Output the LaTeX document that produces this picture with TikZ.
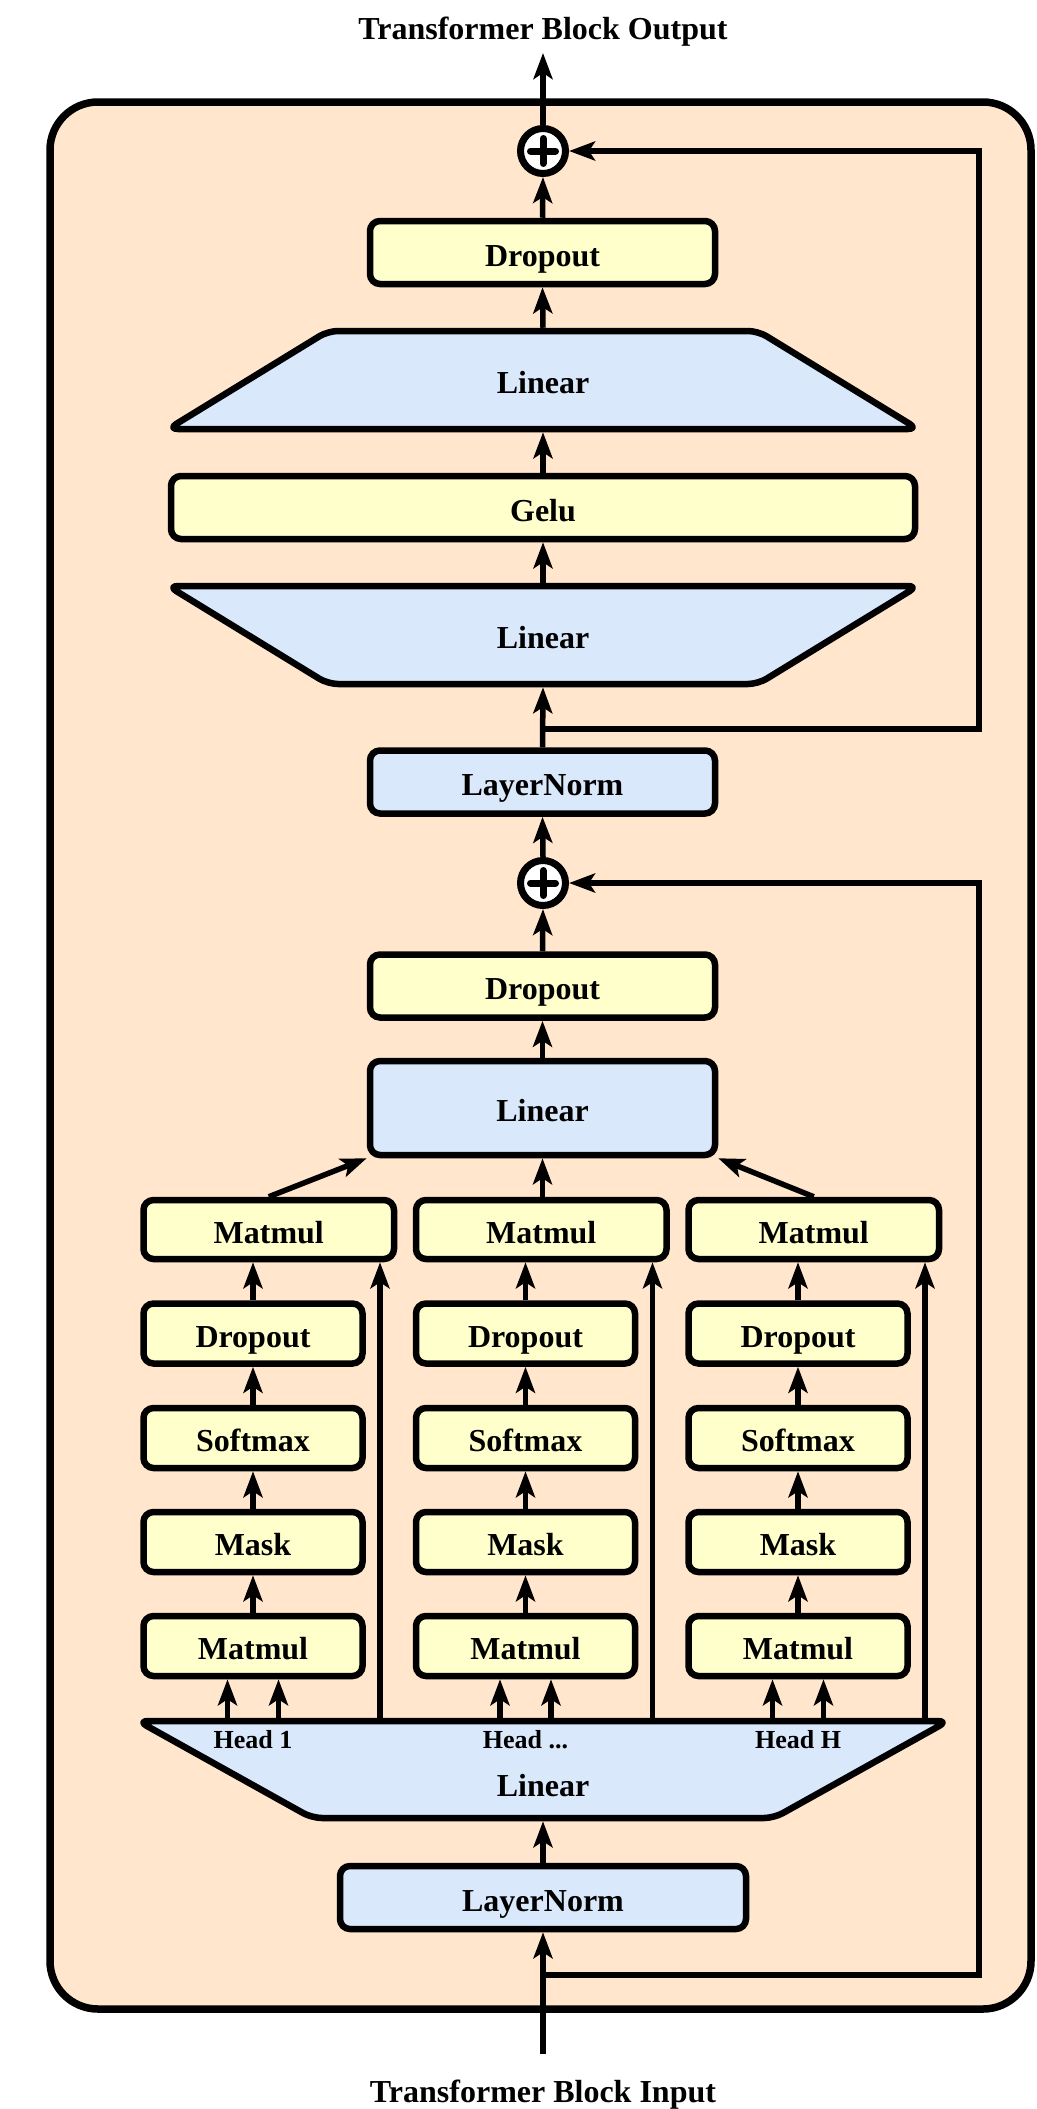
\documentclass[tikz,border=0pt]{standalone}
\usepackage{fontspec}
\setmainfont{Liberation Serif}
\usetikzlibrary{arrows.meta,calc}
\definecolor{peach}{HTML}{FFE6CC}
\definecolor{yel}{HTML}{FFFFCC}
\definecolor{blu}{HTML}{DAE8FC}
\newcommand{\bigf}{\fontsize{32}{38}\selectfont\bfseries}
\newcommand{\smallf}{\fontsize{26}{31}\selectfont\bfseries}
\begin{document}
\begin{tikzpicture}[x=1pt,y=-1pt,
  box/.style={draw, line width=6.5pt, rounded corners=10pt, inner sep=0pt,
    minimum height=63pt, text height=33pt, text depth=6pt, font=\bigf},
  ybox/.style={box, fill=yel},
  bbox/.style={box, fill=blu},
  region/.style={draw=none, inner sep=0pt, outer sep=3.25pt,
    text height=33pt, text depth=6pt, font=\bigf},
  trap/.style={draw, fill=blu, line width=6.5pt, rounded corners=10pt, line join=round},
  ln/.style={line width=5.5pt, line join=miter},
  arr/.style={ln, -{Stealth[length=26pt, width=19pt, inset=6pt]}},
  plus/.style={draw, fill=white, circle, line width=7pt, minimum size=45pt, inner sep=0pt},
  title/.style={font=\bigf, anchor=base, inner sep=0pt}
]
\useasboundingbox (0,0) rectangle (1036,2109);

% outer container
\draw[line width=7.5pt, fill=peach, rounded corners=48pt] (50,102) rectangle (1031,2009);

% titles
\node[title] (outtitle) at (543,40) {Transformer Block Output};
\node[title] (intitle) at (543,2102.5) {Transformer Block Input};

% ---------- upper part ----------
\node[plus] (c1) at (543,151) {};
\draw[line width=7pt, line cap=round] ([xshift=-12.5pt]c1.center) -- ([xshift=12.5pt]c1.center);
\draw[line width=7pt, line cap=round] ([yshift=-12.5pt]c1.center) -- ([yshift=12.5pt]c1.center);
\coordinate (outtip) at (543,53);

\node[ybox, minimum width=345pt] (d1) at (542.5,252.5) {Dropout};

\draw[trap] (543,429) -- (168,429) -- (328,331) -- (758,331) -- (918,429) -- cycle;
\node[region, minimum width=750pt, minimum height=98pt] (lin3) at (543,380) {Linear};

\node[ybox, minimum width=744pt] (gelu) at (543,507.5) {Gelu};

\draw[trap] (543,586) -- (918,586) -- (758,684) -- (328,684) -- (168,586) -- cycle;
\node[region, minimum width=750pt, minimum height=98pt] (lin2) at (543,635) {Linear};

\node[bbox, minimum width=345pt] (ln2) at (542.5,782) {LayerNorm};

\node[plus] (c2) at (543,883) {};
\draw[line width=7pt, line cap=round] ([xshift=-12.5pt]c2.center) -- ([xshift=12.5pt]c2.center);
\draw[line width=7pt, line cap=round] ([yshift=-12.5pt]c2.center) -- ([yshift=12.5pt]c2.center);

\node[ybox, minimum width=345pt] (d2) at (542.5,986) {Dropout};
\node[bbox, minimum width=345pt, minimum height=94pt] (lin1) at (542.5,1108) {Linear};

% ---------- heads ----------
\draw[trap] (543,1818) -- (312,1818) -- (138,1721) -- (948,1721) -- (774,1818) -- cycle;
\node[region, minimum width=810pt, minimum height=97pt] (lin0) at (543,1769.5) {};
\node[title] (lin0lab) at (543,1796) {Linear};

\foreach \i/\c/\lab in {1/253/{Head 1}, 2/525.5/{Head ...}, 3/798/{Head H}} {
  \node[ybox, minimum width=250.5pt, minimum height=59pt] (mt\i) at ({\c+15.75},1229.5) {Matmul};
  \node[ybox, minimum width=219pt, minimum height=60pt] (dh\i) at (\c,1333.5) {Dropout};
  \node[ybox, minimum width=219pt, minimum height=60pt] (sm\i) at (\c,1438) {Softmax};
  \node[ybox, minimum width=219pt, minimum height=60pt] (mk\i) at (\c,1542) {Mask};
  \node[ybox, minimum width=219pt, minimum height=60pt] (mb\i) at (\c,1646) {Matmul};
  \node[font=\smallf, anchor=base, inner sep=0pt] (hl\i) at (\c,1748) {\lab};
  \coordinate (ia\i) at ({\c-25.5},1720);
  \coordinate (ib\i) at ({\c+25.5},1720);
  \coordinate (ic\i) at ({\c+127},1720);
}

\node[bbox, minimum width=406pt] (ln1) at (543,1897.5) {LayerNorm};

% ---------- connectors ----------
\draw[arr] (c1.north) -- (outtip);
\draw[arr] (d1.north) -- (c1.south);
\draw[arr] (lin3.north) -- (d1.south);
\draw[arr] (gelu.north) -- (lin3.south);
\draw[arr] (lin2.north) -- (gelu.south);
\draw[arr] (ln2.north) -- (lin2.south);
\draw[arr] (c2.north) -- (ln2.south);
\draw[arr] (d2.north) -- (c2.south);
\draw[arr] (lin1.north) -- (d2.south);

\coordinate (br1) at (543,729);
\coordinate (r1) at (979,729);
\draw[arr] (br1) -- (r1) -- (r1 |- c1.east) -- (c1.east);

\draw[arr] (mt1.north) -- (lin1.south west);
\draw[arr] (lin1.south |- mt2.north) -- (lin1.south);
\draw[arr] (mt3.north) -- (lin1.south east);

\foreach \i in {1,2,3} {
  \draw[arr] (dh\i.north) -- (dh\i.north |- mt\i.south);
  \draw[arr] (sm\i.north) -- (dh\i.south);
  \draw[arr] (mk\i.north) -- (sm\i.south);
  \draw[arr] (mb\i.north) -- (mk\i.south);
  \draw[arr] (ia\i) -- (ia\i |- mb\i.south);
  \draw[arr] (ib\i) -- (ib\i |- mb\i.south);
  \draw[arr] (ic\i) -- (ic\i |- mt\i.south);
}

\draw[arr] (ln1.north) -- (lin0.south);
\coordinate (inb) at (543,2054);
\draw[arr] (inb) -- (ln1.south);
\coordinate (br2) at (543,1975);
\coordinate (r2) at (979,1975);
\draw[arr] (br2) -- (r2) -- (r2 |- c2.east) -- (c2.east);
\end{tikzpicture}
\end{document}
